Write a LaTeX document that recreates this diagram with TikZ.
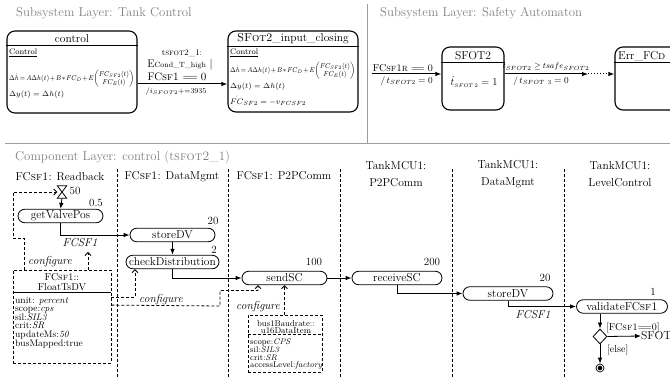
\RequirePackage{fix-cm}
\documentclass[tikz,border=0pt]{standalone}
\usepackage{amsmath}
\usepackage{fontspec}
\usetikzlibrary{arrows.meta,shapes.geometric,calc}
\definecolor{laygray}{gray}{0.5}
\definecolor{sepgray}{gray}{0.62}
% plant equation shared by both control states, set with tight spacing
\newcommand{\stateeq}{{\medmuskip=1.5mu\thickmuskip=2.5mu\arraycolsep=1pt
  $\Delta\dot h = A\Delta h(t) + B*FC_{D} + E\!\begin{pmatrix} FC_{SF2}(t)\\ FC_{E}(t)\end{pmatrix}$}}
\tikzset{
  layertitle/.style={anchor=west, inner sep=0, text=laygray, font=\fontsize{12.8}{15}\selectfont},
  sepline/.style={draw=sepgray, line width=0.9pt},
  statebox/.style={draw, line width=1.1pt, rounded corners=8pt, inner sep=0},
  divider/.style={line width=1pt},
  lbl/.style={inner sep=0, font=\fontsize{11.5}{13}\selectfont},
  twoline/.style={inner sep=0, align=center, font=\fontsize{11.5}{17}\selectfont},
  small/.style={inner sep=0, anchor=west, font=\fontsize{7}{8}\selectfont},
  act/.style={draw, line width=0.8pt, rounded corners=6.75pt, inner sep=0, minimum height=13.5pt, font=\fontsize{11.5}{13}\selectfont},
  num/.style={inner sep=0, font=\fontsize{11}{13}\selectfont},
  flow/.style={line width=0.8pt, -{Latex[length=6pt,width=4.5pt]}},
  cfg/.style={line width=0.8pt, dash pattern=on 3pt off 2pt, -{Straight Barb[length=3pt,width=6pt]}},
  dashbox/.style={draw, line width=0.8pt, dash pattern=on 3pt off 2pt, inner sep=0},
  lane/.style={line width=0.8pt, dash pattern=on 3pt off 2pt},
  cfglbl/.style={inner sep=0, font=\fontsize{11.5}{13}\selectfont\itshape},
}
\begin{document}
\begin{tikzpicture}[x=1pt,y=-1pt]
\useasboundingbox (0,0) rectangle (670,379);

% panel separators and layer titles
\draw[sepline] (367,4) -- (367,143);
\draw[sepline] (5,143) -- (670,143);
\node[layertitle] (tankttl) at (16,13) {Subsystem Layer: Tank Control};
\node[layertitle] (safettl) at (380,13) {Subsystem Layer: Safety Automaton};
\node[layertitle] (compttl) at (15,157) {Component Layer: control (t\textsc{sfot2}\_1)};

% ---------- Tank control states ----------
\node[statebox, minimum width=130pt, minimum height=82pt] (control) at (72,72) {};
\draw[divider] ($(control.north west)+(0,15)$) -- ($(control.north east)+(0,15)$);
\node[lbl] (controlname) at (72,39) {control};
\node[small, font=\fontsize{8}{9}\selectfont] (ctlhdr) at (9,53) {\underline{Control}};
\node[small] (ctleq) at (9,79) {\resizebox*{125pt}{17pt}{\stateeq}};
\node[small, font=\fontsize{7.5}{8}\selectfont] (ctlout) at (9,95) {$\Delta y(t) = \Delta h(t)$};

\node[statebox, minimum width=130pt, minimum height=81pt] (sfin) at (293,71.5) {};
\draw[divider] ($(sfin.north west)+(0,16)$) -- ($(sfin.north east)+(0,16)$);
\node[lbl] (sfinname) at (293,39) {\textsc{SFot2}\_input\_closing};
\node[small, font=\fontsize{8}{9}\selectfont] (sfhdr) at (230,53) {\underline{Control}};
\node[small] (sfeq) at (230,71) {\resizebox*{125pt}{17pt}{\stateeq}};
\node[small, font=\fontsize{7.5}{8}\selectfont] (sfout) at (230,87) {$\Delta y(t) = \Delta h(t)$};
\node[small, font=\fontsize{8}{9}\selectfont] (sfrate) at (230,101) {$\dot{FC}_{SF2} = -v_{FCSF2}$};

\coordinate (ctlexit) at ($(control.east)+(0,12)$);
\draw[flow, line width=1pt] (ctlexit) -- (sfin.west |- ctlexit);
\node[inner sep=0, font=\fontsize{8.5}{10}\selectfont] (trname) at (182,53) {t\textsc{sfot2}\_1:};
\node[lbl, font=\fontsize{11}{12}\selectfont] (trevent) at (180,65) {E{\fontsize{7.5}{8}\selectfont Cond\_T\_high} $|$};
\node[lbl, font=\fontsize{11}{12}\selectfont] (trguard) at (177,77) {FC\textsc{sf1} $=\!= 0$};
\node[inner sep=0, font=\fontsize{7.5}{8}\selectfont] (traction) at (176,92) {$/i_{SFOT2}$+=3935};

% ---------- Safety automaton ----------
\node[statebox, minimum width=62pt, minimum height=63pt] (sfot2) at (473,78.5) {};
\draw[divider] ($(sfot2.north west)+(0,16)$) -- ($(sfot2.north east)+(0,16)$);
\node[lbl] (sfot2name) at (473,56) {SFOT2};
\node[inner sep=0, font=\fontsize{12}{13}\selectfont] (sfot2rate) at (474,82) {\resizebox{47pt}{!}{$\dot t_{\scriptscriptstyle SFOT\,2} = 1$}};

\node[statebox, minimum width=75pt, minimum height=63pt] (errfcd) at (652.5,78.5) {};
\draw[divider] ($(errfcd.north west)+(0,16)$) -- ($(errfcd.north east)+(0,16)$);
\node[lbl, anchor=west] (errname) at (618,56) {Err\_FC\textsc{d}};

\coordinate (safein) at (372,74);
\draw[flow, line width=1pt] (safein) -- (sfot2.west |- safein);
\node[inner sep=0, anchor=east, font=\fontsize{10}{12}\selectfont] (inguard) at (433,68) {FC\textsc{sf1r} $=\!= 0$};
\node[inner sep=0, anchor=east, font=\fontsize{9}{10}\selectfont] (inaction) at (433,81) {$/\,t_{SFOT2} = 0$};

\coordinate (safemid) at (588,74);
\draw[flow, line width=1pt] (sfot2.east |- safein) -- (safemid);
\draw[line width=1pt, dotted, -{Latex[length=6pt,width=4.5pt]}] (safemid) -- (errfcd.west |- safein);
\node[inner sep=0, font=\fontsize{8}{10}\selectfont] (outguard) at (546,67) {$t_{SFOT2} \geq tsafe_{SFOT2}$};
\node[inner sep=0, font=\fontsize{9}{10}\selectfont] (outaction) at (541,81) {$/\,t_{SFOT\ 3} = 0$};

% ---------- Component layer: swimlanes ----------
\foreach \lx in {117,228,340,452,564} \draw[lane] (\lx,169) -- (\lx,379);
\node[lbl] (lane1) at (60,177) {FC\textsc{sf1}: Readback};
\node[lbl] (lane2) at (172,177) {FC\textsc{sf1}: DataMgmt};
\node[lbl] (lane3) at (284,176) {FC\textsc{sf1}: P2PComm};
\node[twoline] (lane4) at (396,174) {TankMCU1:\\P2PComm};
\node[twoline] (lane5) at (508,174) {TankMCU1:\\DataMgmt};
\node[twoline] (lane6) at (620,174) {TankMCU1:\\LevelControl};

% timer
\node[inner sep=0, minimum width=9pt, minimum height=12pt] (timer) at (62,192) {};
\draw[line width=0.8pt] (timer.north west) -- (timer.north east) -- (timer.south west) -- (timer.south east) -- cycle;
\node[num] (timerval) at (75,191) {50};

% actions
\node[act, minimum width=85pt] (getvalve) at (60.5,216) {getValvePos};
\node[num] (getvalvet) at (96,203) {0.5};
\node[act, minimum width=85pt] (storedv1) at (172.5,235) {storeDV};
\node[num] (storedv1t) at (213,221) {20};
\node[act, minimum width=93pt] (checkdist) at (172.5,262) {checkDistribution};
\node[num] (checkdistt) at (214,250) {2};
\node[act, minimum width=85pt] (sendsc) at (284.5,278) {sendSC};
\node[num] (sendsct) at (314,262) {100};
\node[act, minimum width=90pt] (receivesc) at (397,278) {receiveSC};
\node[num] (receivesct) at (432,262) {200};
\node[act, minimum width=90pt] (storedv2) at (508,293.5) {storeDV};
\node[num] (storedv2t) at (545,278) {20};
\node[act, minimum width=91pt] (validate) at (622,306.5) {validateFC\textsc{sf1}};
\node[num] (validatet) at (653,292) {1};

\node[diamond, draw, line width=0.8pt, minimum width=14pt, minimum height=15pt, inner sep=0] (dec) at (600,336.5) {};
\node[circle, draw, line width=0.7pt, minimum size=8pt, inner sep=0] (fin) at (600,368) {};
\fill (fin.center) circle (2.3pt);
\node[lbl, anchor=west] (sfotref) at (641,336) {SFOT2};

% control flow
\draw[flow] (timer.south) -- (getvalve.north);
\draw[flow] (getvalve.south) |- (storedv1.west);
\draw[flow] (storedv1.south) -- (checkdist.north);
\draw[flow] (checkdist.south) |- (sendsc.west);
\draw[flow] (sendsc.east) -- (receivesc.west);
\draw[flow] (receivesc.south) |- (storedv2.west);
\draw[flow] (storedv2.south) |- (validate.west);
\draw[flow] (dec.north |- validate.south) -- (dec.north);
\draw[flow] (dec.east) -- (sfotref.west);
\draw[flow] (dec.south) -- (fin.north);
\node[inner sep=0, anchor=south west, font=\fontsize{10}{11}\selectfont] (guardyes) at (606,333) {[FC\textsc{sf1}$=\!=$0]};
\node[inner sep=0, anchor=west, font=\fontsize{10}{11}\selectfont] (guardelse) at (607,350) {[else]};
\node[cfglbl] (obj1) at (80,243) {FCSF1};
\node[cfglbl] (obj2) at (533,315) {FCSF1};

% data items
\node[dashbox, minimum width=98pt, minimum height=93pt] (floatts) at (62,316.5) {};
\node[inner sep=0, align=center, font=\fontsize{10}{10}\selectfont] (floattsname) at (62,282) {FC\textsc{sf1}::\\FloatTsDV};
\draw[line width=0.8pt] ($(floatts.north west)+(0,23)$) -- ($(floatts.north east)+(0,23)$);
\node[inner sep=0, anchor=west, align=left, font=\fontsize{9.5}{8.6}\selectfont] (floattsattr) at (15,322.5)
  {unit: \textit{percent}\\scope:\textit{cps}\\sil:\textit{SIL3}\\crit:\textit{SR}\\updateMs:\textit{50}\\busMapped:true};

\node[dashbox, minimum width=74pt, minimum height=57pt] (busbox) at (285,343.5) {};
\node[inner sep=0, align=center, font=\fontsize{8.5}{7.2}\selectfont] (busname) at (286,327.5) {bus1Baudrate::\\u16DataItem};
\draw[line width=0.8pt, dash pattern=on 3pt off 2pt] ($(busbox.north west)+(0,20)$) -- ($(busbox.north east)+(0,20)$);
\node[inner sep=0, anchor=west, align=left, font=\fontsize{8.2}{7.3}\selectfont] (busattr) at (250,354)
  {scope:\textit{CPS}\\sil:\textit{SIL3}\\crit:\textit{SR}\\accessLevel:\textit{factory}};

% configuration links
\draw[cfg] ($(floatts.north west)+(12,0)$) |- (13,238.5) |- (timer.west);
\coordinate (cfgtip) at (88,252);
\draw[cfg] (floatts.north -| cfgtip) -- (cfgtip);
\draw[cfg] ($(floatts.north east)+(0,28)$) -| ($(checkdist.south)+(-37.5,0)$);
\draw[cfg] ($(floatts.north east)+(0,35.5)$) -- (220,306) |- (258,290.5) -- ($(sendsc.south)+(-26.5,0)$);
\draw[cfg] (busbox.north -| sendsc.south) -- (sendsc.south);
\node[cfglbl, anchor=west] (cfglbl1) at (28,262) {configure};
\node[cfglbl] (cfglbl2) at (161,300) {configure};
\node[cfglbl, anchor=east] (cfglbl3) at (280,307) {configure};
\end{tikzpicture}
\end{document}
